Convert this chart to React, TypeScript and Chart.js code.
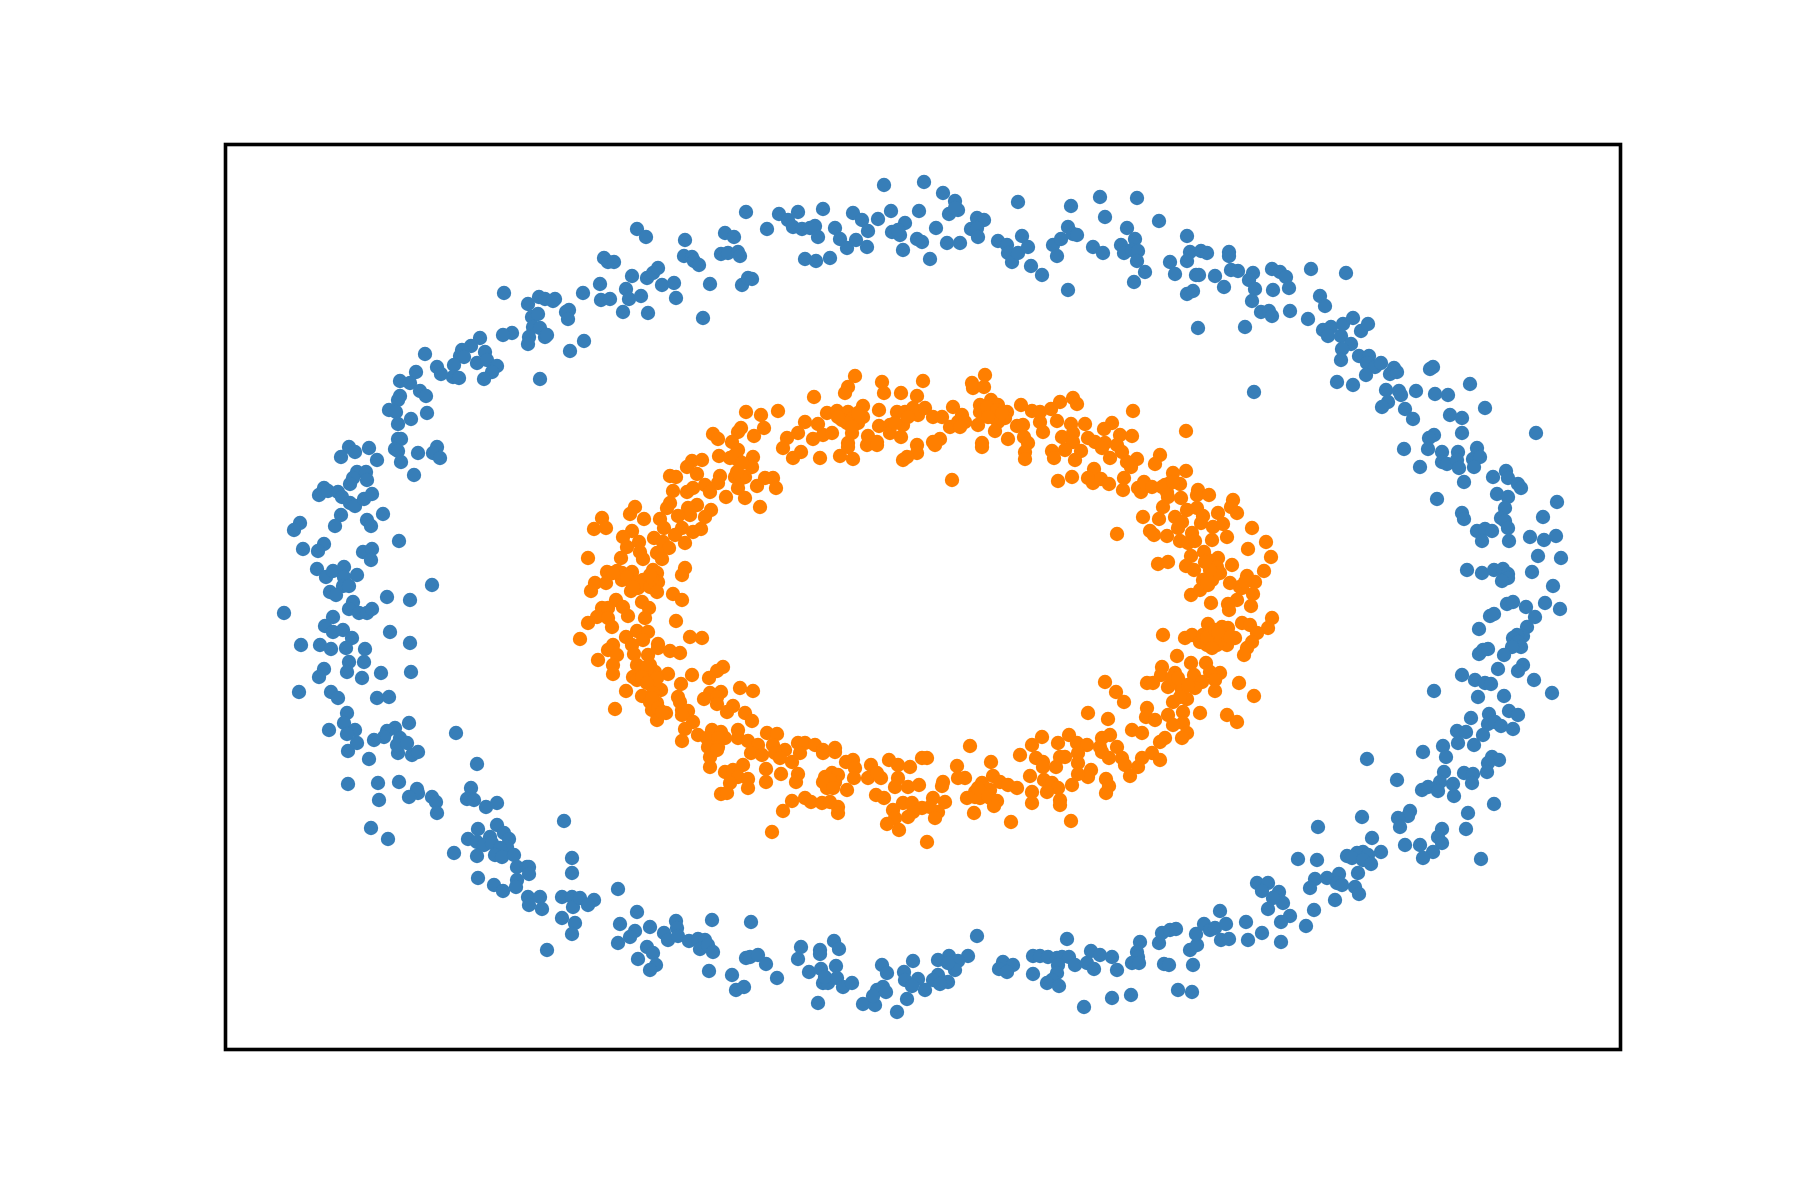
import React, { useEffect, useRef } from "react";
import { Chart, registerables } from "chart.js";

Chart.register(...registerables);

// Readings, in the units of the unlabelled axes.
const xRange = [0, 1395];
const yRange = [0, 906];

const outerRing: [number, number][] = [
[279,757],[303,746],[314,753],[320,751],[330,751],[328,749],[344,740],[341,738],[343,731],[307,733],[313,736],[308,723],[315,722],[304,713],[303,706],[320,713],[322,715],[345,699],[315,671],[287,717],[278,715],[255,712],[246,704],[237,700],[235,694],[239,693],[260,698],[252,687],[262,690],[272,684],[267,678],[259,671],[229,685],[228,673],[234,672],[212,683],[216,676],[200,696],[191,678],[175,669],[185,667],[195,659],[201,654],[175,654],[173,650],[164,640],[171,638],[186,631],[202,637],[173,626],[173,611],[176,611],
[358,757],[359,709],[412,821],[421,813],[379,792],[383,788],[389,788],[375,766],[407,774],[401,761],[376,750],[385,751],[404,751],[416,754],[398,738],[423,737],[422,772],[428,777],[433,782],[437,765],[449,767],[451,752],[460,810],[459,794],[467,793],[469,789],[474,785],[485,766],[478,732],[500,817],[509,813],[496,796],[503,797],[513,798],[515,794],[521,838],[542,821],[517,765],[523,772],[527,771],[554,836],[563,830],[568,823],[573,838],[577,821],[585,822],[590,824],[593,813],[598,841],[580,791],[591,789],[605,792],[610,822],[615,811],[622,802],[631,810],[628,837],[637,830],[643,819],[642,803],[653,831],[659,865],[666,839],[667,818],[675,815],[680,827],[673,820],[678,800],[694,839],[692,811],[697,808],[699,868],
[718,857],[730,849],[733,840],[724,836],[730,842],[711,822],[722,807],[735,807],[705,791],[752,832],[759,830],[746,821],[752,822],[753,813],[793,848],[773,809],[782,805],[783,797],[787,788],[793,797],[797,814],[803,803],[806,784],[817,775],[828,805],[836,811],[832,794],[843,823],[848,816],[852,815],[846,844],[843,760],[868,803],[878,797],[875,853],[880,833],[896,805],[899,797],[902,822],[910,811],[912,852],[907,800],[913,799],[912,789],[920,778],[909,768],[934,829],[945,788],[950,776],[962,814],[965,798],[962,789],[976,799],[982,797],[971,775],[974,775],[962,756],[968,759],[973,722],[990,774],[999,763],[1004,798],[1004,794],[1006,780],[1013,779],[1020,723],[1028,777],[1024,770],[1030,761],[1027,749],[1036,738],[1044,739],[1047,781],[1048,760],[1047,734],[1029,658],
[1055,778],[1061,773],[1064,762],[1086,781],[1121,777],[1065,739],[1083,731],[1095,754],[1100,744],[1098,720],[1106,723],[1103,714],[1116,714],[1118,726],[1128,732],[1136,719],[1143,726],[1126,706],[1117,701],[1116,690],[1134,694],[1144,694],[1142,687],[1150,683],[1156,687],[1141,675],[1112,668],[1128,665],[1169,682],[1165,676],[1172,678],[1208,683],[1205,681],[1245,666],[1161,660],[1174,659],[1176,655],[1191,659],[1210,656],[1223,655],[1163,648],[1157,643],[1180,641],[1188,631],[1260,642],[1225,635],[1237,632],[1237,617],[1311,617],[1209,615],[1204,612],
[1179,601],[1203,601],[1217,598],[1233,598],[1252,602],[1217,588],[1222,586],[1232,590],[1234,582],[1248,591],[1255,593],[1249,583],[1195,583],[1239,568],[1268,573],[1281,579],[1283,572],[1293,566],[1296,562],[1272,556],[1283,553],[1332,548],[1280,542],[1212,551],[1237,537],[1239,531],[1318,533],[1276,532],[1280,529],[1283,522],[1252,519],[1260,521],[1267,519],[1257,509],[1284,509],[1305,513],[1319,510],[1331,514],[1313,494],[1336,492],[1242,480],[1257,477],[1269,480],[1278,481],[1283,476],[1283,472],[1277,469],[1307,478],[1328,464],[1282,446],[1288,448],[1301,443],[1320,447],[1335,441],[1310,433],[1265,434],[1269,436],[1254,421],[1302,423],[1298,414],[1292,415],[1288,412],[1293,408],[1296,403],[1287,403],[1254,396],[1258,400],[1263,401],[1279,395],[1298,385],[1293,379],[1273,381],[1237,375],[1250,370],[1260,367],[1266,366],[1309,370],[1209,359],[1253,353],[1279,354],[1327,357],[1284,339],[1293,335],[1264,336],[1246,332],[1263,326],[1270,328],[1276,324],[1288,321],[1232,319],[1241,318],[1258,315],[1233,307],[1218,304],[1249,305],
[1142,291],[1198,298],[1221,293],[1267,293],[1274,290],[1263,287],[1262,278],[1219,278],[1239,277],[1248,276],[1247,267],[1228,266],[1172,270],[1215,268],[1197,260],[1203,263],[1213,259],[1229,254],[1269,246],[1243,237],[1185,239],[1183,234],[1173,232],[1175,223],[1137,233],[1093,223],[1217,221],[1241,221],[1213,213],[1217,207],[1195,205],[1180,205],[1147,212],[1208,198],[1198,192],[1256,191],[1156,198],[1138,198],[1122,194],[1132,197],[1127,192],[1143,195],[1138,190],[1146,186],[1073,191],[1092,190],[1133,177],[1114,176],[1090,171],[1102,172],[1112,167],[1117,165],[1085,162],[1130,163],[1134,156],[1110,150],[1089,140],[1054,158],[1050,153],[1058,147],[1065,134],[1056,128],[1081,124],[1056,108],
[752,114],[743,94],[724,94],[713,90],[733,89],[730,80],[723,87],[713,75],[708,70],[723,68],[715,66],[700,60],[778,88],[788,85],[774,81],[782,78],[808,94],[815,94],[823,93],[832,92],[837,93],[844,93],[842,111],[833,85],[850,85],[808,76],[832,77],[827,70],[822,67],[834,64],[862,87],[866,99],[875,95],[869,81],[887,93],[892,80],[859,43],[887,52],[906,55],[915,108],[912,98],[913,93],[907,87],[914,87],[934,107],[937,117],[945,120],[951,121],[939,86],[944,85],[968,85],[953,60],[967,58],[965,100],[972,105],[971,116],[979,126],[985,120],[990,122],[995,139],[1001,126],[996,110],[1004,111],[1021,128],[1023,110],[1037,117],[1032,167],[1043,167],[1037,159],[1048,152],[1043,141],
[393,161],[412,138],[395,126],[425,123],[410,119],[405,113],[393,107],[422,103],[428,97],[413,91],[431,85],[425,80],[451,129],[452,122],[439,117],[443,110],[453,114],[464,109],[473,111],[480,110],[475,101],[483,105],[488,98],[487,130],[484,79],[526,128],[507,75],[511,60],[519,63],[521,92],[525,93],[533,95],[541,86],[552,72],[573,91],[576,103],[595,100],[595,96],[609,109],[614,101],[584,78],[596,81],[611,84],[598,67],[603,67],[600,73],[612,72],[618,63],[627,67],[593,47],[638,46],[650,45],[652,60],[658,63],[648,54],[661,58],[657,85],[662,77],[688,89],[679,78],[680,70],[693,71],[687,64],[682,51],[672,38],
[252,286],[144,291],[123,299],[173,297],[187,295],[193,298],[123,266],[153,267],[174,268],[154,250],[192,261],[193,257],[184,253],[207,253],[211,248],[212,237],[246,262],[242,251],[249,250],[261,243],[272,247],[146,222],[163,211],[339,229],[272,225],[279,217],[284,211],[253,221],[243,211],[265,213],[252,208],[259,205],[267,207],[282,203],[275,202],[229,197],[252,194],[270,195],[277,193],[289,195],[292,183],[302,183],[304,183],[304,176],[292,170],[291,163],[253,172],[269,165],[278,159],[303,153],[315,153],[304,145],[317,141],[337,153],[347,192],[347,177],[347,153],[348,143],[337,132],[350,127],[347,116],[322,100],[355,152],[369,150],[363,145],
[124,603],[144,602],[130,598],[116,593],[152,590],[170,601],[173,599],[176,588],[193,597],[212,603],[208,597],[215,592],[189,575],[132,578],[141,578],[128,572],[125,566],[142,570],[99,562],[94,555],[103,559],[113,558],[117,553],[125,547],[130,544],[139,551],[147,556],[116,535],[158,536],[142,530],[146,524],[110,524],[75,527],[69,520],[174,509],[78,501],[99,506],[93,499],[138,498],[147,501],[146,490],[92,481],[101,473],[108,479],[119,483],[119,473],[132,475],[118,464],[124,464],[207,465],[105,458],[111,455],[162,453],[185,450],[128,448],[124,441],[134,437],[142,437],[147,441],[59,437],[108,433],[100,424],[108,418],[118,420],[127,412],[165,418],[185,407],[76,405],[95,405],[106,401],[121,402],[140,401],[139,388],[124,388],[122,378],[99,381],[94,373],[137,372],[156,377],[186,378],[74,358],[106,358],[113,352],[152,352],[164,353],[122,337],[119,327],[104,320],[130,320],[122,316],[132,307],[184,327],[170,322],[162,319],[159,313],[149,310],[231,317],[175,312],[172,305],[182,307],
];

const innerRing: [number, number][] = [
[630,674],[623,663],[620,657],[589,653],[657,668],[659,657],[676,657],[698,669],[692,654],[521,638],[536,635],[553,639],[602,637],[612,639],[623,638],[638,644],[654,640],[672,638],[680,638],[688,642],[693,635],[580,628],[593,626],[617,630],[628,632],[638,633],[633,627],[654,624],[665,625],[678,625],[665,617],[676,613],[516,622],[539,622],[488,616],[493,611],[513,618],[529,614],[507,608],[562,612],[573,617],[588,611],[598,615],[607,617],[627,617],[643,614],[652,608],[623,607],[692,605],
[760,675],[747,667],[748,662],[759,663],[700,642],[728,643],[708,633],[717,633],[725,623],[737,635],[733,628],[740,628],[735,623],[753,625],[755,645],[766,650],[773,645],[755,638],[763,640],[767,633],[782,638],[780,632],[773,628],[770,619],[796,645],[807,639],[815,638],[815,628],[792,624],[798,625],[799,613],[783,611],[818,618],[826,641],[835,648],[848,652],[852,646],[832,629],[846,626],[860,626],[887,627],[879,621],[908,639],[961,619],[895,615],[907,614],[837,613],[848,617],[863,612],[715,611],[708,608],[757,607],[803,607],[848,608],[880,607],[870,608],[892,605],
[558,602],[568,592],[576,598],[595,592],[615,594],[628,591],[623,603],[642,605],[652,605],[678,590],[692,597],[682,593],[477,590],[467,589],[462,583],[494,594],[505,592],[513,590],[513,600],[528,593],[527,583],[472,576],[445,574],[451,573],[495,574],[510,573],[520,573],[540,572],[548,572],[532,564],[551,562],[480,565],[485,558],[493,567],[513,562],[448,559],[462,558],[468,562],[501,553],[520,552],[535,543],[445,547],[442,542],[410,543],[405,536],[419,531],[486,540],[472,545],[463,542],[465,535],[453,534],[480,533],[435,531],[439,522],[377,532],[381,522],[369,521],[407,519],[398,513],[457,522],[468,518],[476,521],[429,512],[450,515],[438,508],[460,507],[444,502],[414,508],[402,503],[415,498],[418,491],[432,497],[437,491],[396,492],[363,492],[460,482],[457,475],[382,478],[392,479],[407,478],[397,470],[428,480],[432,477],[370,467],[381,467],[366,459],[407,468],[418,470],[433,468],[406,459],[413,462],[425,463],[432,458],[448,456],[457,450],[391,450],[398,443],[377,442],[383,442],[372,433],[363,427],[383,432],[387,423],[403,434],[417,448],[424,442],[420,432],[451,429],[355,411],[401,413],[412,419],[423,418],[418,410],[407,405],[465,413],[477,412],[388,405],[383,400],[392,395],[433,406],[433,402],[445,399],[455,397],[409,396],[423,395],[373,390],[388,385],[388,376],[412,385],[425,385],[418,378],[408,373],[430,378],[443,376],[467,375],[423,372],[412,370],[498,383],[492,379],[484,372],[456,366],[430,367],[436,360],[401,359],[515,362],[528,359],[485,357],[496,358],[479,351],[492,353],[417,354],[425,348],[432,347],[453,353],[455,348],[492,346],[390,341],[427,340],[441,337],[457,340],[463,339],[457,335],[508,344],[502,338],[520,337],[527,329],[432,330],[468,328],[460,321],[513,320],[542,317],[552,316],[457,309],[473,315],[487,320],[496,318],[482,312],[500,312],[493,312],[513,312],[523,309],[533,305],[483,303],[493,303],[548,305],[573,307],[580,307],[590,305],[610,302],[560,300],[598,300],
[710,605],[757,603],[800,598],[800,591],[827,599],[829,592],[840,600],[850,590],[856,599],[885,592],[897,598],[877,602],[912,591],[906,583],[902,588],[935,595],[930,586],[727,570],[833,569],[847,573],[869,581],[863,572],[868,567],[876,571],[884,566],[899,572],[898,560],[913,562],[916,558],[919,568],[927,563],[937,563],[948,577],[961,579],[945,567],[955,566],[942,558],[956,552],[973,560],[972,555],[984,555],[1008,550],[1006,543],[1012,537],[938,543],[962,540],[972,542],[978,534],[993,537],[918,533],[934,531],[950,533],[957,528],[953,522],[976,527],[925,519],[929,515],[942,514],[892,516],[967,517],[955,509],[963,507],[970,509],[988,523],[998,526],[987,510],[1002,513],[1027,522],[1041,508],[1023,501],[1046,493],[966,494],[979,498],[983,490],[993,492],[992,483],[1007,485],[933,486],[943,488],[961,484],[969,480],[1039,479],[995,477],[1022,474],[978,470],[987,470],[983,465],[1005,467],[1030,468],[1015,463],[1028,456],[966,455],[975,460],[986,447],[1012,450],[1003,446],[1004,440],[1026,444],[1017,427],[1025,425],[983,426],[1047,432],[1043,422],[938,415],[960,412],[967,415],[997,423],[1003,422],[987,417],[975,408],[982,405],[992,405],[1002,405],[1010,412],[1032,417],[1027,408],[1022,402],[1019,395],[952,394],[966,387],[981,387],[937,383],[995,377],[985,378],[950,377],[969,375],[977,368],[936,375],[880,368],[922,367],[928,367],[943,363],[952,367],[990,370],[1014,367],[990,359],[891,358],[970,362],[957,360],[1029,354],[899,348],[962,351],[948,348],[922,342],[863,337],[883,331],[943,335],[958,338],[975,337],[921,333],[930,330],[1002,335],[1012,328],[958,327],[948,325],[907,320],[917,317],[962,317],[957,312],[940,312],[935,308],[844,315],[817,313],[807,305],[833,307],[852,307],[862,305],[877,312],[885,315],[875,303],[892,303],[745,304],
[702,292],[732,284],[766,288],[795,295],[811,292],[818,288],[818,283],[831,283],[835,293],[840,293],[853,287],[853,297],[877,298],[884,292],[897,292],[900,285],[913,283],[917,292],[927,297],[935,290],[905,274],[866,280],[863,273],[853,276],[733,272],[740,272],[718,268],[717,264],[768,274],[775,268],[783,265],[792,262],[805,274],[819,270],[827,267],[833,262],[847,265],[822,258],[807,258],[807,247],[881,271],[884,264],[881,257],[835,250],[835,245],[757,267],[750,258],[742,252],[758,257],[765,260],[755,252],[765,252],[772,249],[769,244],[749,237],[720,248],[708,252],[713,238],[705,243],[710,232],[786,228],[846,229],[702,208],
[485,283],[485,293],[492,300],[500,278],[508,280],[518,285],[513,273],[523,271],[505,267],[523,262],[496,256],[502,257],[526,297],[537,295],[550,297],[555,292],[567,288],[575,297],[598,297],[610,298],[541,281],[541,268],[556,276],[573,276],[571,268],[567,249],[580,252],[586,248],[597,247],[605,248],[613,243],[613,237],[558,239],[547,218],[600,273],[607,277],[613,275],[603,265],[602,262],[610,268],[622,260],[621,288],[628,290],[630,282],[629,272],[643,272],[656,272],[646,285],[652,277],[664,290],[673,285],[685,283],[673,272],[670,263],[683,263],[694,265],[697,292],[651,255],[659,252],[678,247],[687,247],[697,242],[668,240],[688,238],[670,232],[683,233],[662,226],[674,220],
];

// Points inside the solid clumps of the inner ring, where single marks merge.
const innerClumps: [number, number][] = [
[978,415],[985,410],[990,413],[995,410],[1000,415],[1005,413],[982,413],[990,420],[987,402],[993,418],[982,467],[990,475],[985,480],[980,488],[1017,462],[1020,468],[940,565],[948,568],[943,553],[958,363],[963,365],[955,353],[947,372],[953,372],
[417,382],[422,383],[427,373],[417,373],[432,372],[422,367],[428,357],[427,352],[433,342],[437,338],[397,477],[402,473],[412,468],[408,463],[427,472],[425,475],[388,477],[517,572],[512,578],[510,595],[517,587],
[605,270],[598,268],[608,262],[750,253],[760,262],[763,255],[753,262],[762,643],[772,640],[777,637],[763,633],[622,627],[633,637],[627,623],[613,633],[670,627],[683,633],
];

const BLUE = "#377eb8";
const ORANGE = "#ff7f00";

const frame = {
  id: "frame",
  afterDraw(chart: any) {
    const { ctx, chartArea: a } = chart;
    ctx.save();
    ctx.strokeStyle = "#000";
    ctx.lineWidth = 3.6;
    ctx.strokeRect(a.left + 0.5, a.top + 0.5, a.right - a.left, a.bottom - a.top - 1);
    ctx.restore();
  },
};

const toPoints = (pts: [number, number][]) => pts.map(([x, y]) => ({ x, y }));

export default function App() {
  const ref = useRef<HTMLCanvasElement>(null);
  useEffect(() => {
    const chart = new Chart(ref.current!, {
      type: "scatter",
      data: {
        datasets: [
          { data: toPoints(outerRing), backgroundColor: BLUE, borderWidth: 0, pointRadius: 7.2, pointHoverRadius: 7.2 },
          { data: toPoints([...innerRing, ...innerClumps]), backgroundColor: ORANGE, borderWidth: 0, pointRadius: 7.2, pointHoverRadius: 7.2 },
        ],
      },
      options: {
        animation: false,
        responsive: false,
        devicePixelRatio: 1,
        layout: { padding: { left: 225, right: 180, top: 144, bottom: 150 } },
        plugins: { legend: { display: false }, tooltip: { enabled: false } },
        scales: {
          x: { type: "linear", display: false, min: xRange[0], max: xRange[1] },
          y: { type: "linear", display: false, min: yRange[0], max: yRange[1] },
        },
      },
      plugins: [frame],
    } as any);
    return () => chart.destroy();
  }, []);
  return (
    <div style={{ position: "absolute", left: 0, top: 0, width: 1800, height: 1200, background: "#fff" }}>
      <canvas ref={ref} width={1800} height={1200} />
    </div>
  );
}
